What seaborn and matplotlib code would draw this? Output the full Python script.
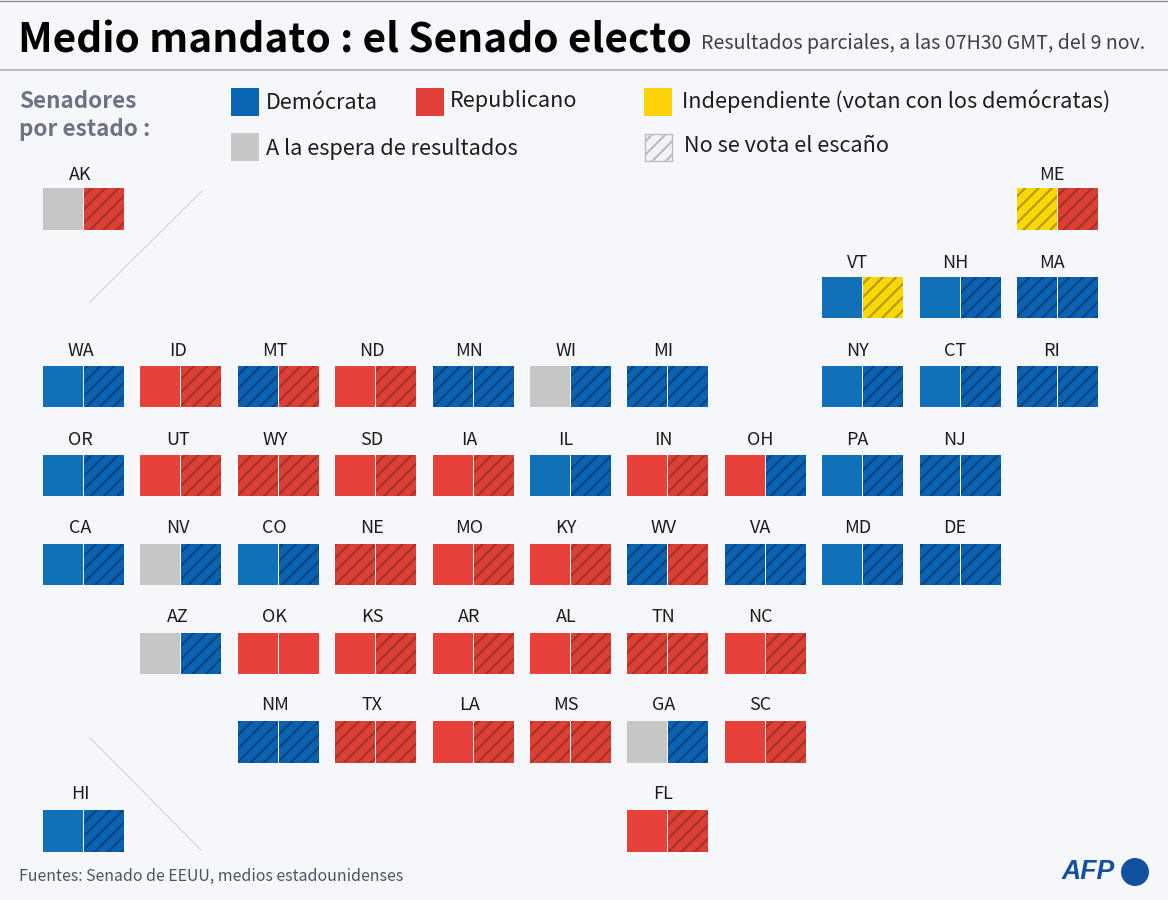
import matplotlib
matplotlib.use("Agg")
import matplotlib.pyplot as plt
from matplotlib.patches import Rectangle, Circle
import seaborn as sns

# Tile map of the states, one list per row, '' = empty slot
row_1 = ['AK', '', '', '', '', '', '', '', '', '', 'ME']
row_2 = ['', '', '', '', '', '', '', '', 'VT', 'NH', 'MA']
row_3 = ['WA', 'ID', 'MT', 'ND', 'MN', 'WI', 'MI', '', 'NY', 'CT', 'RI']
row_4 = ['OR', 'UT', 'WY', 'SD', 'IA', 'IL', 'IN', 'OH', 'PA', 'NJ', '']
row_5 = ['CA', 'NV', 'CO', 'NE', 'MO', 'KY', 'WV', 'VA', 'MD', 'DE', '']
row_6 = ['', 'AZ', 'OK', 'KS', 'AR', 'AL', 'TN', 'NC', '', '', '']
row_7 = ['', '', 'NM', 'TX', 'LA', 'MS', 'GA', 'SC', '', '', '']
row_8 = ['HI', '', '', '', '', '', 'FL', '', '', '', '']

# Seats per state: D/R = elected now, d/r/i = seat not up for vote, G = waiting
seats_1 = ['Gr', '', '', '', '', '', '', '', '', '', 'ir']
seats_2 = ['', '', '', '', '', '', '', '', 'Di', 'Dd', 'dd']
seats_3 = ['Dd', 'Rr', 'dr', 'Rr', 'dd', 'Gd', 'dd', '', 'Dd', 'Dd', 'dd']
seats_4 = ['Dd', 'Rr', 'rr', 'Rr', 'Rr', 'Dd', 'Rr', 'Rd', 'Dd', 'dd', '']
seats_5 = ['Dd', 'Gd', 'Dd', 'rr', 'Rr', 'Rr', 'dr', 'dd', 'Dd', 'dd', '']
seats_6 = ['', 'Gd', 'RR', 'Rr', 'Rr', 'Rr', 'rr', 'Rr', '', '', '']
seats_7 = ['', '', 'dd', 'rr', 'Rr', 'rr', 'Gd', 'Rr', '', '', '']
seats_8 = ['Dd', '', '', '', '', '', 'Rr', '', '', '', '']

rows = [row_1, row_2, row_3, row_4, row_5, row_6, row_7, row_8]
seats = [seats_1, seats_2, seats_3, seats_4, seats_5, seats_6, seats_7, seats_8]

BG = '#f5f7fb'
FONT = ['Noto Sans CJK JP', 'DejaVu Sans']
fills = {'D': '#1270b8', 'R': '#e8403a', 'G': '#c6c6c6',
         'd': '#0b62b0', 'r': '#dc4035', 'i': '#fdd800'}
stripes = {'d': '#0a4480', 'r': '#a5322a', 'i': '#b39a10'}

sns.set_theme(style='white', rc={'hatch.linewidth': 2.0})
plt.rcParams['font.family'] = FONT

fig = plt.figure(figsize=(14.6, 11.25), dpi=80, facecolor=BG)
ax = fig.add_axes([0, 0, 1, 1], facecolor=BG)

x0, y0 = 43, 188
pitch_x, pitch_y = 97.4, 88.9
seat_w, seat_h = 40, 41.5

for r, (names, codes) in enumerate(zip(rows, seats)):
    for c, (name, code) in enumerate(zip(names, codes)):
        if not name:
            continue
        left = x0 + c * pitch_x
        top = y0 + r * pitch_y
        for k, s in enumerate(code):
            kw = {'hatch': '//', 'edgecolor': stripes[s]} if s in stripes else {}
            sns.barplot(x=[left + k * 41 + seat_w / 2], y=[seat_h], native_scale=True,
                        width=seat_w, bottom=top, color=fills[s], saturation=1,
                        errorbar=None, linewidth=0, ax=ax, legend=False, **kw)
        ax.text(left + 37.5 - 0.25 * c, top - 13.5 - 0.45 * r, name, ha='center', va='center',
                fontsize=16.2, color='#1c1c1c')

# Separators for Alaska and Hawaii
ax.plot([90, 202], [302, 191], color='#d2d5da', lw=1.1)
ax.plot([90, 201], [738, 850], color='#d2d5da', lw=1.1)

# Header
ax.plot([0, 1168], [0.5, 0.5], color='#8a8f9a', lw=1.2)
ax.plot([0, 1168], [70, 70], color='#b4b7c1', lw=1.6)
ax.text(18, 41, 'Medio mandato : el Senado electo', fontsize=36.5, fontweight='bold',
        color='black', va='center')
ax.text(701, 43.5, 'Resultados parciales, a las 07H30 GMT, del 9 nov.', fontsize=17.6,
        color='#3c3f48', va='center')
ax.text(19, 101.5, 'Senadores', fontsize=20.2, fontweight='bold', color='#6f7283', va='center')
ax.text(19, 129.5, 'por estado :', fontsize=20.2, fontweight='bold', color='#6f7283', va='center')

# Legend
for lx, ly, col in [(231, 88, '#0a66b4'), (416, 88, '#e0423a'), (644, 88, '#fdd20a'), (231, 133, '#c6c6c6')]:
    ax.add_patch(Rectangle((lx, ly), 27.5, 28, facecolor=col, lw=0))
ax.add_patch(Rectangle((644.5, 133.5), 27, 27, facecolor='#f3f4f8', edgecolor='#b9bcc6',
                       hatch='//', lw=1.2))
for lx, ly, label in [(266, 103, 'Demócrata'), (450, 101.5, 'Republicano'),
                      (682, 101.5, 'Independiente (votan con los demócratas)'),
                      (266, 149, 'A la espera de resultados'), (684, 146.5, 'No se vota el escaño')]:
    ax.text(lx, ly, label, fontsize=19.5, color='#1c1c1c', va='center')

# Source and logo
ax.text(19, 876, 'Fuentes: Senado de EEUU, medios estadounidenses', fontsize=14.3,
        color='#4d5360', va='center')
ax.text(1062, 872, 'AFP', fontsize=24, fontweight='bold', style='italic', color='#1450a0',
        va='center', family='Liberation Sans')
ax.add_patch(Circle((1135, 872), 14, facecolor='#1450a0', lw=0))

ax.set_xlim(0, 1168)
ax.set_ylim(900, 0)
ax.set_xlabel('')
ax.set_ylabel('')
ax.set_axis_off()

fig.savefig('out.png', dpi=80, facecolor=BG)
